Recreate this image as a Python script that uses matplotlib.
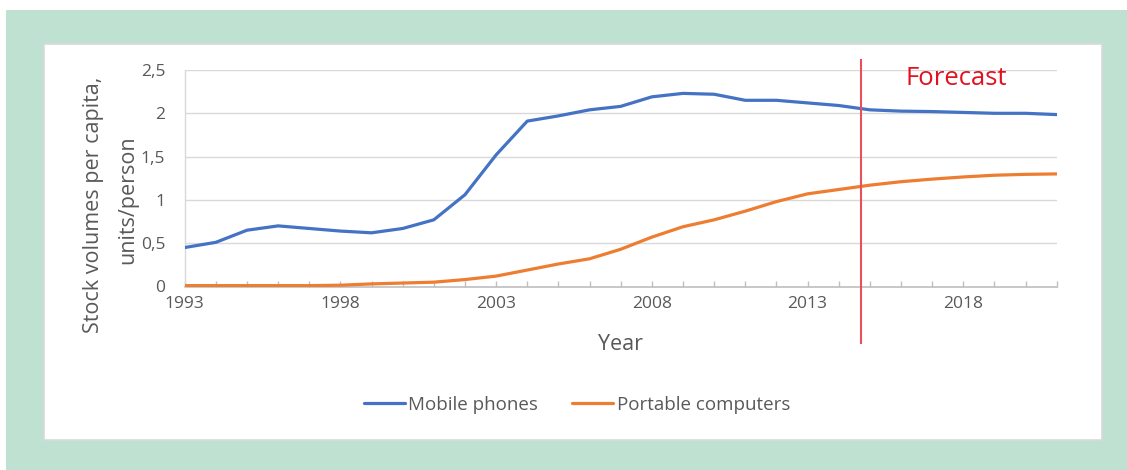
import matplotlib
matplotlib.use("Agg")
import matplotlib.pyplot as plt
from matplotlib.patches import Rectangle
from matplotlib.ticker import FixedLocator, FuncFormatter

# Stock volumes per capita (units/person), 1993-2021
years = list(range(1993, 2022))
mobile_phones = [0.45, 0.51, 0.65, 0.70, 0.67, 0.64, 0.62, 0.67, 0.77, 1.06,
                 1.52, 1.91, 1.97, 2.04, 2.08, 2.19, 2.23, 2.22, 2.15, 2.15,
                 2.12, 2.09, 2.04, 2.025, 2.02, 2.01, 2.00, 2.00, 1.985]
portable_computers = [0.01, 0.01, 0.01, 0.01, 0.01, 0.015, 0.03, 0.04, 0.05, 0.08,
                      0.12, 0.19, 0.26, 0.32, 0.43, 0.57, 0.69, 0.77, 0.87, 0.98,
                      1.07, 1.12, 1.17, 1.21, 1.24, 1.265, 1.285, 1.295, 1.30]
forecast_start = 2014.73
year_labels = [1993, 1998, 2003, 2008, 2013, 2018]
y_ticks = [0, 0.5, 1, 1.5, 2, 2.5]

FONT = ["Open Sans", "DejaVu Sans"]
plt.rcParams["font.family"] = FONT

W, H = 1127, 470
fig = plt.figure(figsize=(W / 100, H / 100), dpi=100)
fig.patch.set_facecolor("white")

# framed panel: green mat with a white card on top
fig.add_artist(Rectangle((6 / W, 0), 1 - 6 / W, 1 - 10 / H, transform=fig.transFigure,
                         facecolor="#bfe1d2", edgecolor="none", zorder=-10))
fig.add_artist(Rectangle((44 / W, 1 - 440 / H), (1102 - 44) / W, (440 - 44) / H,
                         transform=fig.transFigure, facecolor="white",
                         edgecolor="#d9d9d9", linewidth=1.2, zorder=-9))

left, right, top, bottom = 184.7, 1056.7, 70, 286.5
ax = fig.add_axes([left / W, 1 - bottom / H, (right - left) / W, (bottom - top) / H])
ax.set_facecolor("none")

ax.plot(years, mobile_phones, color="#4472c4", lw=2.3, label="Mobile phones",
        solid_capstyle="round", zorder=3)
ax.plot(years, portable_computers, color="#ed7d31", lw=2.3, label="Portable computers",
        solid_capstyle="round", zorder=3)

ax.set_xlim(years[0], years[-1])
ax.set_ylim(0, 2.5)

# axes styling
for s in ["top", "right"]:
    ax.spines[s].set_visible(False)
ax.spines["left"].set_color("#d9d9d9")
ax.spines["left"].set_linewidth(1.0)
ax.spines["bottom"].set_color("#bfbfbf")
ax.spines["bottom"].set_linewidth(1.2)
ax.spines["bottom"].set_zorder(2)

ax.yaxis.set_major_locator(FixedLocator(y_ticks))
ax.yaxis.set_major_formatter(FuncFormatter(lambda v, p: f"{v:g}".replace(".", ",")))
ax.tick_params(axis="y", length=0, pad=14, labelsize=12.5, labelcolor="#595959")
ax.grid(axis="y", color="#d9d9d9", lw=1.0, zorder=0)

ax.xaxis.set_major_locator(FixedLocator(year_labels))
ax.xaxis.set_minor_locator(FixedLocator(years))
ax.tick_params(axis="x", which="both", direction="in", length=4, width=1,
               color="#bfbfbf", labelsize=12.5, labelcolor="#595959", pad=7)

ax.set_xlabel("Year", fontsize=15.5, color="#595959", labelpad=16)

# y-axis title, two centered lines
fig.text(93 / W, 1 - 205 / H, "Stock volumes per capita,", rotation=90,
         ha="center", va="center", fontsize=15.5, color="#595959")
fig.text(128 / W, 1 - 200 / H, "units/person", rotation=90,
         ha="center", va="center", fontsize=15.5, color="#595959")

# forecast marker
ax.axvline(forecast_start, ymin=(bottom - 343) / (bottom - top), ymax=(bottom - 60) / (bottom - top),
           color="#e8505a", lw=1.5, clip_on=False, zorder=4)
ax.text(2017.77, 2.40, "Forecast", color="#e3101e", fontsize=18.5,
        ha="center", va="center")

leg = fig.legend(loc="center", bbox_to_anchor=(577 / W, 1 - 405 / H), ncol=2,
                 frameon=False, fontsize=13.5, handlelength=2.2, handletextpad=0.2,
                 columnspacing=1.8)
for t in leg.get_texts():
    t.set_color("#595959")

fig.savefig("out.png", dpi=100)
